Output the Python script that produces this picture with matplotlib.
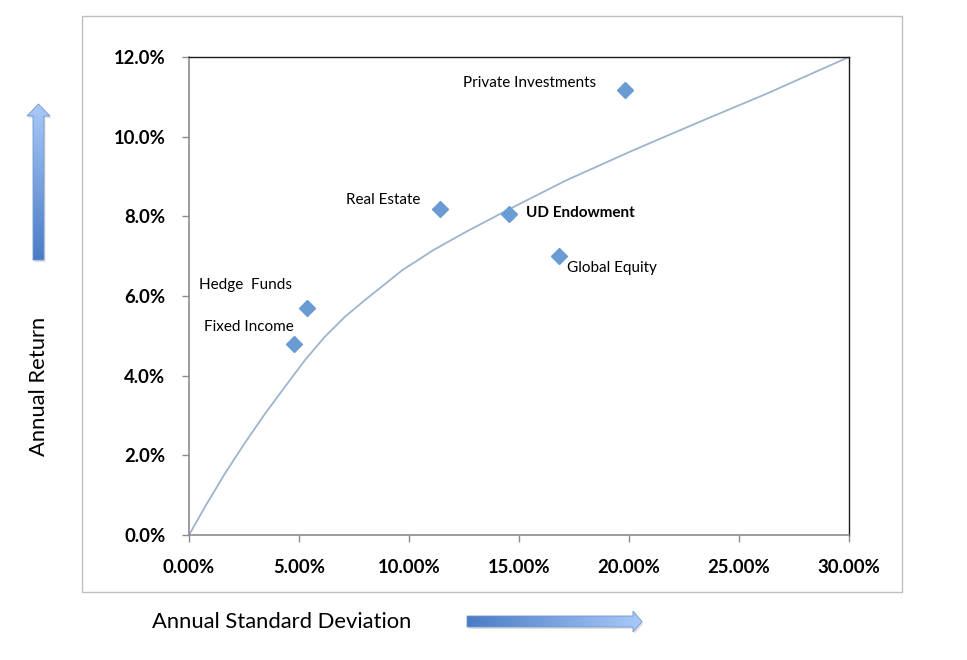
import numpy as np
import matplotlib
matplotlib.use("Agg")
import matplotlib.pyplot as plt
from matplotlib.patches import Polygon, Rectangle
from matplotlib.colors import LinearSegmentedColormap
from matplotlib.ticker import FuncFormatter

# ---- data (percent) ----
names = ["Private Investments", "Real Estate", "UD Endowment", "Global Equity", "Hedge  Funds", "Fixed Income"]
std_dev = [19.80, 11.41, 14.54, 16.80, 5.37, 4.78]
returns = [11.17, 8.18, 8.06, 7.00, 5.70, 4.80]

frontier_x = [0, 0.73, 1.64, 2.55, 3.45, 4.36, 5.27, 6.18, 7.09, 8.0, 8.91, 9.7,
              11.1, 12.62, 14.59, 17.17, 20.2, 23.2, 26.26, 30.0]
frontier_y = [0, 0.71, 1.55, 2.32, 3.04, 3.72, 4.39, 4.98, 5.48, 5.90, 6.30, 6.65,
              7.15, 7.62, 8.19, 8.91, 9.66, 10.37, 11.08, 12.0]

x_ticks = [0, 5, 10, 15, 20, 25, 30]
y_ticks = [0, 2, 4, 6, 8, 10, 12]

plt.rcParams['font.family'] = ['Lato', 'DejaVu Sans']

W, H = 967, 660
fig = plt.figure(figsize=(W / 100, H / 100), dpi=100)

# overlay in pixel coordinates for decorations
ov = fig.add_axes([0, 0, 1, 1], zorder=0)
ov.set_xlim(0, W)
ov.set_ylim(H, 0)
ov.axis("off")
ov.add_patch(Rectangle((82, 16), 820, 576, fill=False, edgecolor="#BFBFBF", linewidth=1.0))

cmap = LinearSegmentedColormap.from_list("ar", ["#4A7CC6", "#A9C9F8"])


def grad_arrow(poly, vertical):
    p = Polygon(poly, closed=True, facecolor="none", edgecolor="none")
    ov.add_patch(p)
    xs = [q[0] for q in poly]
    ys = [q[1] for q in poly]
    g = np.linspace(0, 1, 256)
    if vertical:
        img = 1 - g[:, None]   # row 0 (top) light, bottom dark
    else:
        img = g[None, :]       # left dark, right light
    im = ov.imshow(img, cmap=cmap, aspect="auto",
                   extent=[min(xs), max(xs), max(ys), min(ys)], vmin=0, vmax=1, zorder=2)
    im.set_clip_path(p)
    sh = Polygon([(x + 1.5, y + 2) for x, y in poly], closed=True, facecolor="#000000",
                 alpha=0.12, edgecolor="none", zorder=1)
    ov.add_patch(sh)
    ov.add_patch(Polygon(poly, closed=True, facecolor="none", edgecolor="#6F97CF",
                         linewidth=0.6, zorder=3))


# vertical arrow (up)
grad_arrow([(33, 260), (33, 116), (27, 116), (38.5, 104), (50, 116), (44, 116), (44, 260)], vertical=True)
# horizontal arrow (right)
grad_arrow([(467, 616), (633, 616), (633, 611), (642, 621.5), (633, 632), (633, 627), (467, 627)], vertical=False)

fig.text(282 / W, 1 - 622 / H, "Annual Standard Deviation", fontsize=15.8, ha="center", va="center", color="#000000")
fig.text(39 / W, 1 - 386 / H, "Annual Return", fontsize=15.8, ha="center", va="center", rotation=90, color="#000000")

ax = fig.add_axes([189 / W, 1 - 535 / H, 660 / W, 478 / H], zorder=2)
ax.patch.set_alpha(0)
ax.set_xlim(0, 30)
ax.set_ylim(0, 12)

ax.plot(frontier_x, frontier_y, color="#9DB4CE", linewidth=1.3, zorder=2,
        solid_joinstyle="round")
ax.plot(std_dev, returns, linestyle="none", marker="D", markersize=7.8,
        color="#6A9BD3", markeredgecolor="#6A9BD3", zorder=3)

px2pt = 72 / 100
offsets = [(-28, 7, "right"), (-20, 9, "right"), (17, 1, "left"), (8, -12, "left"),
           (-15, 23, "right"), (0, 17, "right")]
for n, x, y, (dx, dy, ha) in zip(names, std_dev, returns, offsets):
    ax.annotate(n, (x, y), xytext=(dx * px2pt, dy * px2pt), textcoords="offset points",
                ha=ha, va="center", fontsize=11,
                fontweight="bold" if n == "UD Endowment" else "normal", color="#000000")

ax.set_xticks(x_ticks)
ax.set_yticks(y_ticks)
ax.xaxis.set_major_formatter(FuncFormatter(lambda v, p: f"{v:.2f}%"))
ax.yaxis.set_major_formatter(FuncFormatter(lambda v, p: f"{v:.1f}%"))
for lab in ax.get_xticklabels() + ax.get_yticklabels():
    lab.set_fontweight("bold")
ax.tick_params(axis="both", direction="out", length=5, width=1, color="#8C8C8C", labelsize=13.3)
ax.tick_params(axis="x", pad=12)
ax.tick_params(axis="y", pad=12)
for s in ["left", "bottom"]:
    ax.spines[s].set_color("#8C8C8C")
    ax.spines[s].set_linewidth(1.2)
for s in ["top", "right"]:
    ax.spines[s].set_color("#1A1A1A")
    ax.spines[s].set_linewidth(1.0)

fig.savefig("out.png", dpi=100)
